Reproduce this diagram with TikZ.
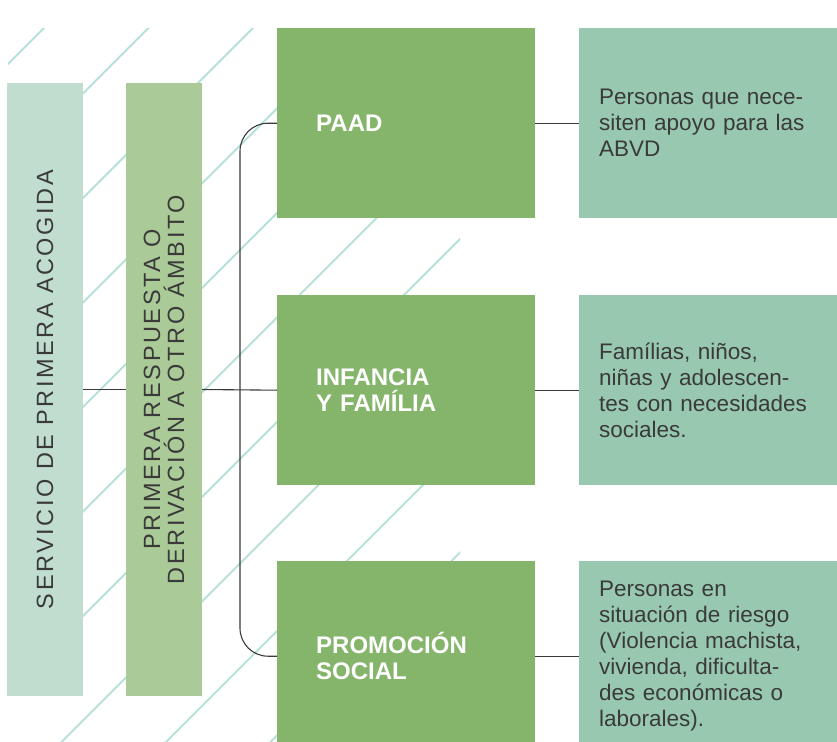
\documentclass[tikz,border=0pt]{standalone}
\usepackage{fontspec}
\setmainfont{Liberation Sans}
\newfontfamily\trackfont{Liberation Sans}[LetterSpace=11]
\definecolor{ink}{HTML}{3A3A3A}
\definecolor{hatchblue}{HTML}{B6E0DA}
\definecolor{acogidabg}{HTML}{C0DDD0}
\definecolor{primerabg}{HTML}{AACA97}
\definecolor{areagreen}{HTML}{85B46B}
\definecolor{notegreen}{HTML}{98C9B0}
\begin{document}
\begin{tikzpicture}[x=1pt,y=-1pt,
  box/.style={inner sep=0pt,minimum width=258pt,minimum height=190pt,anchor=north west},
  head/.style={box,fill=areagreen,text=white,font=\bfseries\fontsize{24}{26}\selectfont,
    text width=180pt,inner xsep=39pt,align=left},
  note/.style={box,fill=notegreen,text=ink,font=\fontsize{22.5}{26}\selectfont,
    text width=218pt,inner xsep=20pt,align=left},
  band/.style={inner sep=0pt,rotate=90,minimum width=613pt,minimum height=76pt,
    text=ink,font=\trackfont\fontsize{23.5}{24}\selectfont,align=center},
  link/.style={draw=ink,line width=1.1pt},
  hatch/.style={draw=hatchblue,line width=2pt}]
\useasboundingbox (0,0) rectangle (837,741);
\clip (0,0) rectangle (837,741);
% diagonal background lines
\begin{scope}
\clip (8,29) rectangle (460,741);
\foreach \k in {0,...,10}
  \draw[hatch] ({72+104.5*\k},0) -- ({72+104.5*\k-900},900);
\end{scope}
\node[band,fill=acogidabg] (acogida) at (45,389.5) {SERVICIO DE PRIMERA ACOGIDA};
\node[band,fill=primerabg] (primera) at (164,389.5) {PRIMERA RESPUESTA O\\DERIVACIÓN A OTRO ÁMBITO};
\node[head] (paad) at (277,28) {PAAD};
\node[head] (infancia) at (277,295) {INFANCIA\\Y FAMÍLIA};
\node[head] (promocion) at (277,561) {PROMOCIÓN\\SOCIAL};
\node[note] (paadnote) at (579,28) {Personas que nece-\\siten apoyo para las\\ABVD};
\node[note] (infancianote) at (579,295) {Famílias, niños,\\niñas y adolescen-\\tes con necesidades\\sociales.};
\node[note] (promocionnote) at (579,561) {Personas en\\situación de riesgo\\(Violencia machista,\\vivienda, dificulta-\\des económicas o\\laborales).};
\coordinate (trunk) at (240,389.5);
\draw[link] (acogida.south) -- (primera.north);
\draw[link] (primera.south) -- (infancia.west);
\draw[link,rounded corners=28pt] (paad.west) -| (trunk) |- (promocion.west);
\draw[link] (paad.east) -- (paadnote.west);
\draw[link] (infancia.east) -- (infancianote.west);
\draw[link] (promocion.east) -- (promocionnote.west);
\end{tikzpicture}
\end{document}
